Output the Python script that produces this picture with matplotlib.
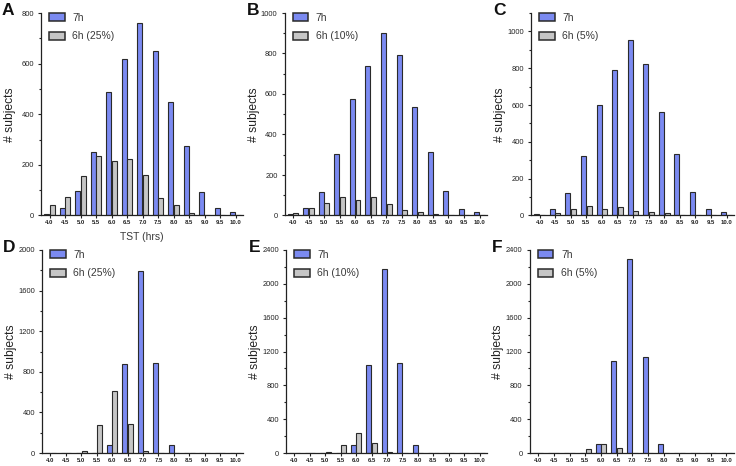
"""
Histograms of total sleep time (TST) for 7h vs 6h groups, panels A-F
"""

import numpy as np
import matplotlib
matplotlib.use('Agg')
import matplotlib.pyplot as plt
from matplotlib.patches import Patch

plt.rcParams['font.family'] = ['Liberation Sans', 'DejaVu Sans']

## Data
tst = ['4.0', '4.5', '5.0', '5.5', '6.0', '6.5', '7.0',
       '7.5', '8.0', '8.5', '9.0', '9.5', '10.0']

a_7h = [4, 29, 97, 252, 487, 617, 762, 648, 449, 275, 93, 30, 14]
a_6h = [41, 75, 156, 236, 215, 224, 159, 69, 42, 10, 3, 0, 0]
b_7h = [7, 36, 114, 303, 577, 740, 901, 792, 537, 316, 119, 33, 16]
b_6h = [12, 35, 61, 92, 79, 92, 56, 28, 16, 6, 0, 0, 0]
c_7h = [7, 38, 121, 323, 601, 792, 955, 825, 563, 334, 130, 36, 20]
c_6h = [2, 14, 34, 51, 34, 47, 25, 20, 13, 5, 0, 0, 0]
d_7h = [0, 0, 0, 0, 82, 875, 1796, 885, 76, 0, 0, 0, 0]
d_6h = [0, 0, 20, 280, 609, 290, 23, 0, 0, 0, 0, 0, 0]
e_7h = [0, 0, 0, 0, 99, 1038, 2171, 1066, 91, 0, 0, 0, 0]
e_6h = [0, 0, 8, 99, 233, 122, 8, 0, 0, 0, 0, 0, 0]
f_7h = [0, 0, 0, 0, 103, 1086, 2290, 1133, 103, 0, 0, 0, 0]
f_6h = [0, 0, 3, 51, 103, 59, 0, 0, 0, 0, 0, 0, 0]

BLUE = '#7b8af1'
GREY = '#c6c6c6'
EDGE = '#2a2a2a'
TEXT = '#3a3a3a'

W, H = 736, 466

# letter, 7h, 6h, 6h label, ymax, ytick step, axes left/right/top/bottom (px)
panels = [
    ('A', a_7h, a_6h, '6h (25%)', 800, 200, 41, 243, 13, 215.5),
    ('B', b_7h, b_6h, '6h (10%)', 1000, 200, 284.5, 487, 13, 215.5),
    ('C', c_7h, c_6h, '6h (5%)', 1100, 200, 531, 734, 13, 215.5),
    ('D', d_7h, d_6h, '6h (25%)', 2000, 400, 42, 243, 250, 453),
    ('E', e_7h, e_6h, '6h (10%)', 2400, 400, 286, 487, 250, 453),
    ('F', f_7h, f_6h, '6h (5%)', 2400, 400, 529.5, 734, 250, 453),
]

fig = plt.figure(figsize=(W / 100, H / 100), dpi=100)

x = np.arange(len(tst))
bw = 0.32

for letter, s7, s6, lab6, ymax, step, l, r, t, b in panels:
    ax = fig.add_axes([l / W, 1 - b / H, (r - l) / W, (b - t) / H])
    ax.bar(x - 0.18, s7, bw, color=BLUE, edgecolor=EDGE, linewidth=0.8)
    ax.bar(x + 0.18, s6, bw, color=GREY, edgecolor=EDGE, linewidth=0.8)

    ax.set_xlim(-0.55, 12.48)
    ax.set_ylim(0, ymax)
    ax.set_xticks(x)
    ax.set_xticklabels(tst, fontsize=4.3, fontweight='bold', color='#222222')
    ax.set_yticks(np.arange(0, ymax + 1, step))
    ax.set_yticks(np.arange(step / 2, ymax + 1, step), minor=True)
    ax.tick_params(axis='y', which='major', labelsize=5.4, length=2.5,
                   width=0.8, pad=2.5, colors='#222222')
    ax.tick_params(axis='y', which='minor', length=1.6, width=0.8,
                   colors='#222222')
    ax.tick_params(axis='x', length=1.8, width=0.8, pad=1.5,
                   colors='#222222')

    for side in ['top', 'right']:
        ax.spines[side].set_visible(False)
    for side in ['left', 'bottom']:
        ax.spines[side].set_linewidth(0.9)
        ax.spines[side].set_color('#222222')

    ax.set_ylabel('# subjects', fontsize=8.7, color='#222222')
    ax.yaxis.set_label_coords(-(l - (l - 41) - 16) / (r - l), 0.5)

    handles = [Patch(facecolor=BLUE, edgecolor=EDGE, linewidth=1.1),
               Patch(facecolor=GREY, edgecolor=EDGE, linewidth=1.1)]
    leg = ax.legend(handles, ['7h', lab6], loc='upper left',
                    bbox_to_anchor=(8 / (r - l), 1.0), frameon=False,
                    fontsize=7.5, handlelength=1.5, handleheight=0.8,
                    handletextpad=0.75, labelspacing=0.8, borderpad=0,
                    borderaxespad=0)
    for txt in leg.get_texts():
        txt.set_color(TEXT)

    lx = l - 39 if letter in 'AD' else l - 37.5
    fig.text(lx / W, 1 - (t - 10) / H, letter, fontsize=12.5,
             fontweight='bold', va='top', ha='left', color='#111111')

fig.text(141.7 / W, 1 - 237 / H, 'TST (hrs)', fontsize=7.5,
         color=TEXT, ha='center', va='center')

fig.savefig('out.png', dpi=100)
